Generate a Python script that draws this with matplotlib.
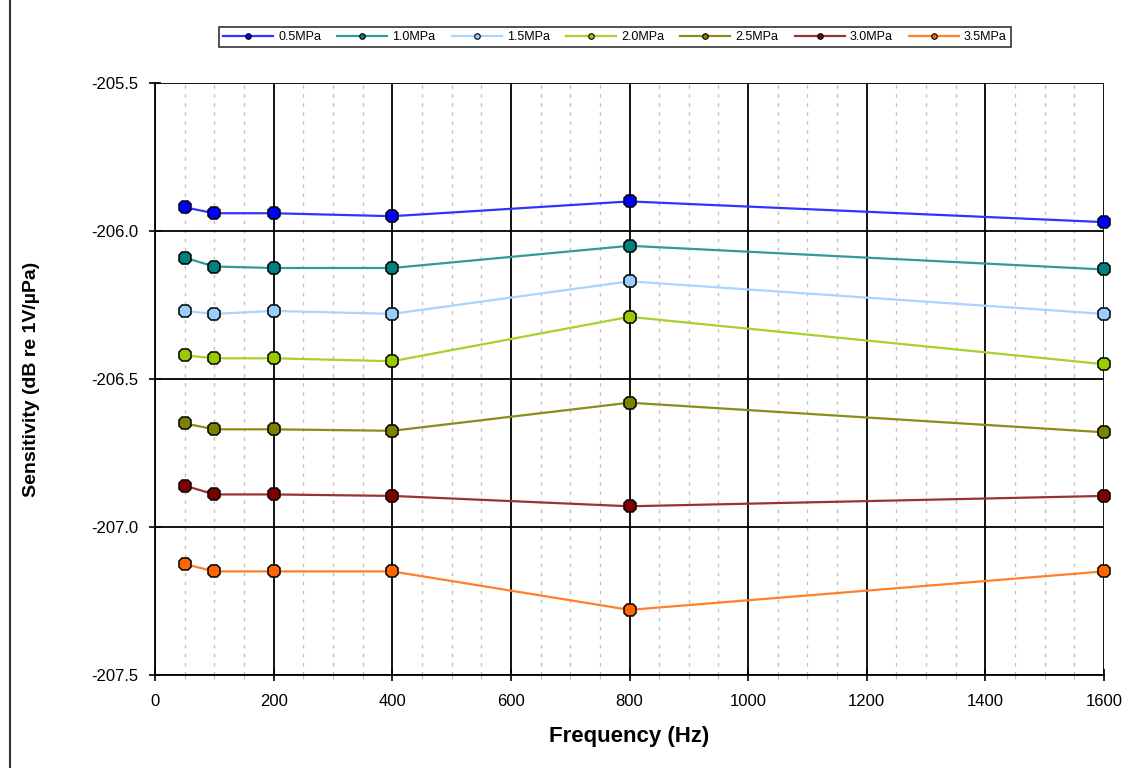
import matplotlib
matplotlib.use("Agg")
import matplotlib.pyplot as plt
from matplotlib.ticker import MultipleLocator
from matplotlib.lines import Line2D

plt.rcParams['font.family'] = ['Liberation Sans', 'DejaVu Sans']

freqs = [50, 100, 200, 400, 800, 1600]
labels = ['0.5MPa', '1.0MPa', '1.5MPa', '2.0MPa', '2.5MPa', '3.0MPa', '3.5MPa']
s05 = [-205.92, -205.94, -205.94, -205.95, -205.90, -205.97]
s10 = [-206.09, -206.12, -206.125, -206.125, -206.05, -206.13]
s15 = [-206.27, -206.28, -206.27, -206.28, -206.17, -206.28]
s20 = [-206.42, -206.43, -206.43, -206.44, -206.29, -206.45]
s25 = [-206.65, -206.67, -206.67, -206.675, -206.58, -206.68]
s30 = [-206.86, -206.89, -206.89, -206.895, -206.93, -206.895]
s35 = [-207.125, -207.15, -207.15, -207.15, -207.28, -207.15]
series = [s05, s10, s15, s20, s25, s30, s35]
marker_colors = ['#0000FF', '#008080', '#99CCFF', '#99CC00', '#808000', '#800000', '#FF6600']
line_colors = ['#3333FF', '#339999', '#A8D4FF', '#A6D22A', '#8C8C1A', '#993333', '#FF7F2A']

fig = plt.figure(figsize=(11.26, 7.68), dpi=100)
W, H = 1126, 768
ax = fig.add_axes([155 / W, 1 - 675 / H, (1104 - 155) / W, (675 - 83) / H])

for vals, mc, lc, lab in zip(series, marker_colors, line_colors, labels):
    ax.plot(freqs, vals, color=lc, lw=1.6, marker='8', markersize=10,
            markerfacecolor=mc, markeredgecolor='black', markeredgewidth=1.1,
            label=lab, zorder=3, clip_on=False)

ax.set_xlim(0, 1600)
ax.set_ylim(-207.5, -205.5)
ax.xaxis.set_major_locator(MultipleLocator(200))
ax.xaxis.set_minor_locator(MultipleLocator(50))
ax.yaxis.set_major_locator(MultipleLocator(0.5))
ax.yaxis.set_major_formatter(matplotlib.ticker.FormatStrFormatter('%.1f'))

ax.grid(which='major', axis='both', color='black', lw=1.3, zorder=1)
ax.grid(which='minor', axis='x', color='#C0C0C0', lw=1.0, ls=(0, (2.5, 4)), zorder=0)

for side in ['top', 'right']:
    ax.spines[side].set_visible(False)
for side in ['left', 'bottom']:
    ax.spines[side].set_color('black')
    ax.spines[side].set_linewidth(1.3)

ax.tick_params(which='major', direction='inout', length=8, width=1.2, labelsize=12,
               colors='black', pad=8)
ax.tick_params(axis='x', which='minor', direction='out', length=3, width=0.8, color='#BBBBBB')
ax.tick_params(axis='x', which='major', pad=10)

ax.set_xlabel('Frequency (Hz)', fontsize=16, fontweight='bold', labelpad=12)
ax.set_ylabel('Sensitivity (dB re 1V/\u00b5Pa)', fontsize=14, fontweight='bold', labelpad=10)
ax.yaxis.set_label_coords(-0.121, 0.5)

handles = [Line2D([0], [0], color=lc, lw=1.6, marker='o', markersize=4,
                  markerfacecolor=mc, markeredgecolor='black', markeredgewidth=0.8)
           for mc, lc in zip(marker_colors, line_colors)]
leg = fig.legend(handles, labels, loc='center', bbox_to_anchor=(615 / W, 1 - 37 / H),
                 ncol=7, fontsize=9, frameon=True, fancybox=False, edgecolor='black',
                 handlelength=4, handletextpad=0.4, columnspacing=1.3,
                 borderpad=0.35)
leg.get_frame().set_linewidth(1.2)

fig.add_artist(Line2D([10 / W, 10 / W], [0, 1], color='#333333', lw=1.5))

fig.savefig('out.png', dpi=100)
